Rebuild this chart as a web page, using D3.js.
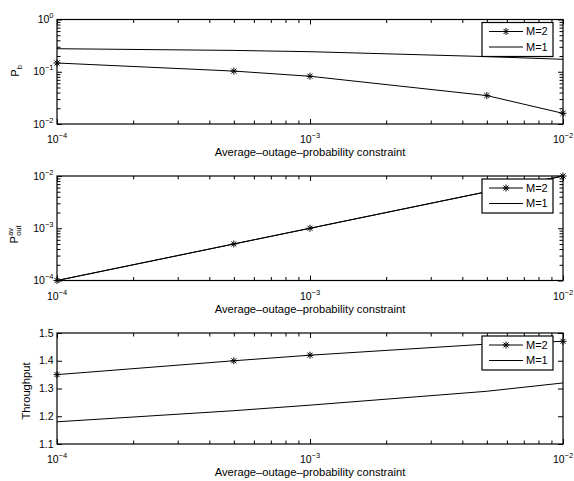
<!DOCTYPE html>
<html>
<head>
<meta charset="utf-8">
<script src="https://cdn.jsdelivr.net/npm/d3@7"></script>
<style>
  body { margin: 0; background: #fff; }
  svg { display: block; }
  text { font-family: "Liberation Sans", Arial, sans-serif; fill: #000; }
</style>
</head>
<body>
<svg id="chart" width="574" height="481"></svg>
<script>
// data
const constraint = [1e-4, 5e-4, 1e-3, 5e-3, 1e-2];
const pbM2 = [0.147, 0.103, 0.082, 0.035, 0.016];
const pbM1 = [0.276, 0.256, 0.242, 0.195, 0.173];
const poutM2 = [1e-4, 5e-4, 1e-3, 5e-3, 1e-2];
const poutM1 = [1e-4, 5e-4, 1e-3, 5e-3, 1e-2];
const thrM2 = [1.35, 1.40, 1.42, 1.46, 1.47];
const thrM1 = [1.18, 1.22, 1.24, 1.29, 1.32];

const xTicks = [1e-4, 1e-3, 1e-2];
const pbTicks = [1e-2, 1e-1, 1];
const poutTicks = [1e-4, 1e-3, 1e-2];
const thrTicks = [1.1, 1.2, 1.3, 1.4, 1.5];
const legendLabels = ["M=2", "M=1"];
const xLabel = "Average\u2013outage\u2013probability constraint";

// layout
const left = 57, right = 563;
const fs = 10.5, fsSmall = 7.5, fsLabel = 11.2;

const svg = d3.select("#chart");

const x = d3.scaleLog().domain([1e-4, 1e-2]).range([left, right]);

function minorLog(lo, hi) {
  const out = [];
  for (let e = Math.round(Math.log10(lo)); e < Math.round(Math.log10(hi)); e++)
    for (let k = 2; k <= 9; k++) out.push(k * Math.pow(10, e));
  return out;
}

function logText(g, px, py, v, anchor) {
  const e = Math.round(Math.log10(v));
  const t = g.append("text")
    .attr("x", px).attr("y", py)
    .attr("text-anchor", anchor)
    .style("font-size", fs + "px");
  t.append("tspan").text("10");
  t.append("tspan").attr("dy", -5).style("font-size", fsSmall + "px")
    .text(e < 0 ? "\u2212" + (-e) : String(e));
}

function asterisk(g, px, py) {
  const r = 3.5, d = r * 0.72;
  g.append("path")
    .attr("d", `M${px - r},${py}H${px + r}M${px},${py - r}V${py + r}` +
               `M${px - d},${py - d}L${px + d},${py + d}M${px - d},${py + d}L${px + d},${py - d}`)
    .attr("stroke", "#000").attr("stroke-width", 1).attr("fill", "none");
}

function panel(opt) {
  const g = svg.append("g");
  const y = opt.log
    ? d3.scaleLog().domain(opt.domain).range([opt.bottom, opt.top])
    : d3.scaleLinear().domain(opt.domain).range([opt.bottom, opt.top]);

  // ticks on all four sides, pointing inward
  const xMinor = minorLog(1e-4, 1e-2);
  const addAxis = (axisFn, scale, vals, size, tr) => {
    const a = g.append("g").attr("transform", tr)
      .call(axisFn(scale).tickValues(vals).tickSize(-size).tickFormat(""));
    a.select(".domain").remove();
    a.selectAll("line").attr("stroke", "#000").attr("stroke-width", 1);
  };
  addAxis(d3.axisBottom, x, xTicks, 5, `translate(0,${opt.bottom})`);
  addAxis(d3.axisBottom, x, xMinor, 3.5, `translate(0,${opt.bottom})`);
  addAxis(d3.axisTop, x, xTicks, 5, `translate(0,${opt.top})`);
  addAxis(d3.axisTop, x, xMinor, 3.5, `translate(0,${opt.top})`);
  addAxis(d3.axisLeft, y, opt.ticks, 5, `translate(${left},0)`);
  addAxis(d3.axisRight, y, opt.ticks, 5, `translate(${right},0)`);
  if (opt.log) {
    const yMinor = minorLog(opt.domain[0], opt.domain[1]);
    addAxis(d3.axisLeft, y, yMinor, 3.5, `translate(${left},0)`);
    addAxis(d3.axisRight, y, yMinor, 3.5, `translate(${right},0)`);
  }

  g.append("rect")
    .attr("x", left).attr("y", opt.top)
    .attr("width", right - left).attr("height", opt.bottom - opt.top)
    .attr("fill", "none").attr("stroke", "#000").attr("stroke-width", 1.2);

  // tick labels
  xTicks.forEach(v => logText(g, x(v), opt.bottom + 19, v, "middle"));
  opt.ticks.forEach(v => {
    if (opt.log) logText(g, left - 3.5, y(v) + 3.7, v, "end");
    else g.append("text").attr("x", left - 3.5).attr("y", y(v) + 3.7)
      .attr("text-anchor", "end").style("font-size", fs + "px")
      .text(d3.format(".1f")(v));
  });

  g.append("text")
    .attr("x", (left + right) / 2).attr("y", opt.bottom + 32)
    .attr("text-anchor", "middle").style("font-size", fsLabel + "px")
    .text(xLabel);

  // y label
  opt.ylabel(g);

  // lines
  const line = d3.line().x((d, i) => x(constraint[i])).y(d => y(d));
  [opt.m1, opt.m2].forEach(s => {
    g.append("path").datum(s).attr("d", line)
      .attr("fill", "none").attr("stroke", "#000").attr("stroke-width", 1);
  });
  opt.m2.forEach((v, i) => asterisk(g, x(constraint[i]), y(v)));

  // legend
  const lx = 482, ly = opt.top + 3, lw = 71, lh = 34;
  const lg = g.append("g");
  lg.append("rect").attr("x", lx).attr("y", ly).attr("width", lw).attr("height", lh)
    .attr("fill", "#fff").attr("stroke", "#000").attr("stroke-width", 1.2);
  legendLabels.forEach((lab, i) => {
    const yy = ly + 9 + i * 15.5;
    lg.append("line").attr("x1", lx + 7).attr("x2", lx + 41)
      .attr("y1", yy).attr("y2", yy).attr("stroke", "#000").attr("stroke-width", 1);
    if (i === 0) asterisk(lg, lx + 24, yy);
    lg.append("text").attr("x", lx + 44).attr("y", yy + 3.8)
      .style("font-size", "11px").text(lab);
  });
}

panel({
  top: 19.5, bottom: 124, log: true, domain: [1e-2, 1], ticks: pbTicks,
  m1: pbM1, m2: pbM2,
  ylabel: g => {
    const t = g.append("g").attr("transform", "translate(19,71) rotate(-90)");
    const tx = t.append("text").attr("text-anchor", "middle").style("font-size", fsLabel + "px");
    tx.append("tspan").text("P");
    tx.append("tspan").attr("dy", 3).style("font-size", fsSmall + "px").text("b");
  }
});

panel({
  top: 176, bottom: 280.5, log: true, domain: [1e-4, 1e-2], ticks: poutTicks,
  m1: poutM1, m2: poutM2,
  ylabel: g => {
    const t = g.append("g").attr("transform", "translate(18,234) rotate(-90)");
    t.append("text").attr("x", -9.5).attr("y", 0).style("font-size", fsLabel + "px").text("P");
    t.append("text").attr("x", -1.8).attr("y", 2.8).style("font-size", fsSmall + "px").text("out");
    t.append("text").attr("x", -1.8).attr("y", -5).style("font-size", fsSmall + "px").text("av");
  }
});

panel({
  top: 333, bottom: 444, log: false, domain: [1.1, 1.5], ticks: thrTicks,
  m1: thrM1, m2: thrM2,
  ylabel: g => {
    g.append("text").attr("transform", "translate(30,391) rotate(-90)")
      .attr("text-anchor", "middle").style("font-size", fsLabel + "px").text("Throughput");
  }
});
</script>
</body>
</html>
